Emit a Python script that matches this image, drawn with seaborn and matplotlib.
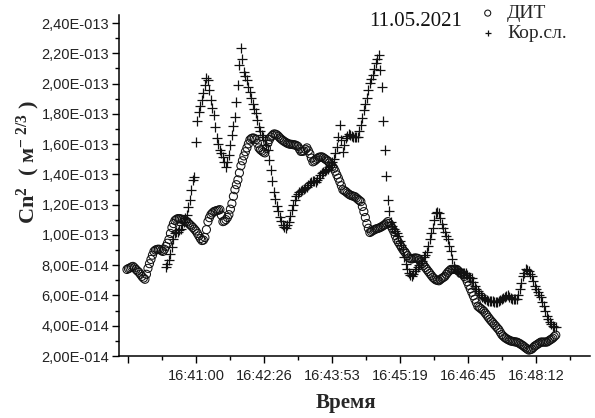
import numpy as np
import pandas as pd
import matplotlib
matplotlib.use("Agg")
import matplotlib.pyplot as plt
import seaborn as sns
from matplotlib.ticker import FixedLocator

# ---------------- data (values in units of 1e-14 m^-2/3) ----------------
SERIES_NAMES = ["ДИТ", "Кор.сл."]
SAMPLE_STEP_S = 1.905           # seconds between samples
DIT_START_S = 59972.3           # seconds of day (16:39:32)
KOR_START_S = 60021.9           # seconds of day (16:40:22)

DIT_VALUES = [
    7.72, 7.78, 7.82, 7.88, 7.92, 7.83, 7.72, 7.62, 7.53, 7.40,
    7.26, 7.15, 7.07, 7.40, 7.79, 8.10, 8.38, 8.66, 8.91, 9.00,
    9.04, 9.06, 9.04, 8.96, 8.91, 9.05, 9.24, 9.45, 9.70, 10.10,
    10.49, 10.75, 10.95, 11.03, 11.08, 11.08, 11.05, 11.02, 10.98, 10.93,
    10.88, 10.78, 10.68, 10.59, 10.49, 10.38, 10.26, 10.10, 9.93, 9.76,
    9.63, 9.66, 9.83, 10.35, 10.88, 11.14, 11.34, 11.45, 11.54, 11.58,
    11.61, 11.64, 11.67, 11.30, 10.88, 10.92, 11.01, 11.15, 11.34, 11.70,
    12.07, 12.55, 12.99, 13.32, 13.64, 14.10, 14.57, 14.90, 15.22, 15.50,
    15.75, 16.02, 16.28, 16.37, 16.41, 16.38, 16.30, 16.05, 15.75, 15.63,
    15.55, 15.47, 15.42, 15.72, 16.08, 16.30, 16.47, 16.58, 16.67, 16.66,
    16.61, 16.52, 16.41, 16.32, 16.24, 16.17, 16.11, 16.05, 16.01, 15.99,
    15.98, 15.96, 15.95, 15.91, 15.85, 15.68, 15.52, 15.52, 15.55, 15.66,
    15.75, 15.56, 15.36, 15.08, 14.83, 14.88, 14.96, 15.05, 15.13, 15.15,
    15.16, 15.10, 15.03, 14.96, 14.89, 14.76, 14.63, 14.52, 14.40, 14.20,
    13.97, 13.75, 13.51, 13.25, 12.99, 12.92, 12.86, 12.77, 12.69, 12.63,
    12.59, 12.56, 12.53, 12.45, 12.36, 12.28, 12.20, 11.88, 11.54, 11.15,
    10.75, 10.44, 10.16, 10.22, 10.29, 10.34, 10.39, 10.42, 10.45, 10.50,
    10.55, 10.62, 10.68, 10.78, 10.88, 10.76, 10.61, 10.42, 10.22, 9.96,
    9.70, 9.53, 9.37, 9.20, 9.04, 8.91, 8.78, 8.63, 8.48, 8.44,
    8.41, 8.45, 8.48, 8.47, 8.45, 8.34, 8.22, 8.10, 7.99, 7.85,
    7.72, 7.59, 7.46, 7.33, 7.20, 7.11, 7.03, 7.00, 6.97, 7.05,
    7.13, 7.19, 7.26, 7.40, 7.53, 7.63, 7.72, 7.72, 7.72, 7.72,
    7.72, 7.63, 7.53, 7.46, 7.39, 7.26, 7.13, 6.90, 6.67, 6.44,
    6.21, 5.98, 5.75, 5.52, 5.29, 5.21, 5.13, 5.05, 4.96, 4.83,
    4.70, 4.56, 4.43, 4.31, 4.20, 4.08, 3.97, 3.85, 3.74, 3.57,
    3.41, 3.31, 3.22, 3.15, 3.09, 3.04, 2.99, 2.97, 2.95, 2.93,
    2.92, 2.87, 2.82, 2.75, 2.69, 2.61, 2.53, 2.46, 2.39, 2.42,
    2.46, 2.56, 2.66, 2.72, 2.79, 2.85, 2.92, 2.92, 2.92, 2.92,
    2.92, 2.98, 3.05, 3.11, 3.18, 3.28, 3.38,
]

KOR_VALUES = [
    7.86, 8.05, 8.32, 8.75, 9.17, 9.70, 10.16, 10.20, 10.22, 10.30,
    10.42, 10.65, 10.88, 11.10, 11.34, 11.85, 12.33, 12.95, 13.64, 13.84,
    16.14, 17.50, 18.12, 18.55, 18.91, 19.40, 19.89, 20.40, 20.22, 19.60,
    18.91, 18.40, 17.92, 17.10, 16.41, 16.00, 15.62, 15.40, 15.16, 14.80,
    14.50, 14.85, 15.29, 15.95, 16.61, 17.20, 17.79, 18.80, 19.89, 21.20,
    22.33, 21.60, 20.75, 20.50, 20.22, 19.80, 19.43, 19.05, 18.64, 18.35,
    18.05, 17.60, 17.13, 16.85, 16.61, 16.45, 16.28, 15.95, 15.62, 14.95,
    14.30, 13.55, 12.86, 12.40, 11.93, 11.55, 11.21, 10.95, 10.68, 10.55,
    10.49, 10.65, 10.88, 11.25, 11.67, 12.00, 12.33, 12.55, 12.72, 12.82,
    12.92, 12.98, 13.05, 13.12, 13.18, 13.32, 13.45, 13.52, 13.58, 13.55,
    13.51, 13.65, 13.78, 13.95, 14.11, 14.18, 14.24, 14.30, 14.37, 14.50,
    14.63, 14.82, 15.03, 15.40, 15.82, 16.50, 17.26, 16.30, 15.49, 15.95,
    16.41, 16.55, 16.67, 16.60, 16.54, 16.50, 16.47, 16.47, 16.47, 16.85,
    17.26, 17.75, 18.25, 18.65, 19.04, 19.55, 20.03, 20.30, 20.55, 20.95,
    21.34, 21.60, 21.87, 20.90, 19.76, 17.50, 15.62, 13.90, 12.33, 11.55,
    10.88, 10.60, 10.36, 10.25, 10.16, 9.90, 9.63, 9.35, 9.04, 8.55,
    8.05, 7.75, 7.46, 7.35, 7.26, 7.42, 7.59, 7.72, 7.86, 7.99,
    8.12, 8.30, 8.51, 8.68, 8.84, 9.25, 9.70, 10.10, 10.49, 11.00,
    11.47, 11.50, 11.47, 11.10, 10.75, 10.48, 10.22, 9.95, 9.70, 9.30,
    8.91, 8.40, 7.92, 7.75, 7.59, 7.56, 7.53, 7.50, 7.46, 7.46,
    7.46, 7.33, 7.20, 7.16, 7.13, 6.87, 6.61, 6.45, 6.28, 6.15,
    6.01, 5.92, 5.82, 5.75, 5.68, 5.65, 5.62, 5.62, 5.62, 5.58,
    5.55, 5.58, 5.62, 5.68, 5.75, 5.82, 5.88, 5.95, 6.01, 5.92,
    5.82, 5.78, 5.75, 5.75, 5.75, 6.05, 6.41, 6.85, 7.26, 7.50,
    7.72, 7.68, 7.59, 7.42, 7.26, 6.95, 6.61, 6.40, 6.21, 6.05,
    5.88, 5.60, 5.29, 4.95, 4.63, 4.42, 4.24, 4.10, 3.97, 3.94,
    3.91,
]

X_TICKS_S = [59973.6, 60060.0, 60146.4, 60232.8, 60319.2, 60405.6, 60492.0]
X_TICK_LABELS = ["", "16:41:00", "16:42:26", "16:43:53", "16:45:19", "16:46:45", "16:48:12"]
X_MINOR_S = [59930.4, 60016.8, 60103.2, 60189.6, 60276.0, 60362.4, 60448.8, 60535.2]
Y_TICKS = [2e-14, 4e-14, 6e-14, 8e-14, 1e-13, 1.2e-13, 1.4e-13, 1.6e-13,
           1.8e-13, 2.0e-13, 2.2e-13, 2.4e-13]
Y_TICK_LABELS = ["2,00E-014", "4,00E-014", "6,00E-014", "8,00E-014", "1,00E-013",
                 "1,20E-013", "1,40E-013", "1,60E-013", "1,80E-013", "2,00E-013",
                 "2,20E-013", "2,40E-013"]
Y_MINOR = [3e-14, 5e-14, 7e-14, 9e-14, 1.1e-13, 1.3e-13, 1.5e-13, 1.7e-13,
           1.9e-13, 2.1e-13, 2.3e-13]
DATE_TEXT = "11.05.2021"

# ---------------- build tables ----------------
dit_df = pd.DataFrame({
    "t": DIT_START_S + SAMPLE_STEP_S * np.arange(len(DIT_VALUES)),
    "v": np.array(DIT_VALUES) * 1e-14,
})
kor_df = pd.DataFrame({
    "t": KOR_START_S + SAMPLE_STEP_S * np.arange(len(KOR_VALUES)),
    "v": np.array(KOR_VALUES) * 1e-14,
})

# ---------------- style ----------------
sns.set_style("ticks")
plt.rcParams["font.family"] = ["Liberation Sans", "DejaVu Sans"]
plt.rcParams["mathtext.fontset"] = "custom"
plt.rcParams["mathtext.rm"] = "Liberation Serif:bold"
plt.rcParams["mathtext.it"] = "Liberation Serif:italic:bold"
plt.rcParams["mathtext.bf"] = "Liberation Serif:bold"

fig = plt.figure(figsize=(5.95, 4.18), dpi=100)
ax = fig.add_axes([0.200, 0.1483, 0.7916, 0.8158])

sns.scatterplot(data=dit_df, x="t", y="v", marker="o", s=34, color="black",
                facecolor="none", edgecolor="#111111", linewidth=0.75,
                label=SERIES_NAMES[0], ax=ax, zorder=3)
sns.scatterplot(data=kor_df, x="t", y="v", marker="+", s=42, color="#111111",
                linewidth=0.9, label=SERIES_NAMES[1], ax=ax, zorder=4)

ax.set_xlim(59962.2, 60560.6)
ax.set_ylim(2e-14, 2.453e-13)

ax.xaxis.set_major_locator(FixedLocator(X_TICKS_S))
ax.set_xticklabels(X_TICK_LABELS)
ax.xaxis.set_minor_locator(FixedLocator(X_MINOR_S))
ax.yaxis.set_major_locator(FixedLocator(Y_TICKS))
ax.set_yticklabels(Y_TICK_LABELS)
ax.yaxis.set_minor_locator(FixedLocator(Y_MINOR))

for side in ["top", "right"]:
    ax.spines[side].set_visible(False)
for side in ["left", "bottom"]:
    ax.spines[side].set_linewidth(1.1)
    ax.spines[side].set_color("black")

ax.tick_params(which="major", direction="out", length=5, width=1.0, color="black",
               labelsize=10.5, labelcolor="#222222")
ax.tick_params(which="minor", direction="out", length=3, width=1.0, color="black")
ax.tick_params(axis="y", which="major", pad=2)
ax.tick_params(axis="x", which="major", pad=4)

ax.set_xlabel("Время", fontfamily="Liberation Serif", fontweight="bold", fontsize=15)
ax.xaxis.set_label_coords(0.482, -0.108)
ax.set_ylabel(r"Cn$^{2}$  ( м$^{-\ 2/3}$ )", fontfamily="Liberation Serif",
              fontweight="bold", fontsize=16, va="center")
ax.yaxis.set_label_coords(-0.193, 0.569)

fig.text(416 / 595, 1 - 22 / 418, DATE_TEXT, fontfamily="Liberation Serif",
         fontsize=15, ha="center", va="center", color="#111111")

ax.legend(loc="upper left", bbox_to_anchor=(478 / 595, 0.989),
          bbox_transform=fig.transFigure, frameon=False,
          prop={"family": "Liberation Serif", "size": 14},
          handlelength=1.0, handletextpad=0.5, labelspacing=0.1,
          borderpad=0, borderaxespad=0, markerscale=0.75)

fig.savefig("out.png", dpi=100)
